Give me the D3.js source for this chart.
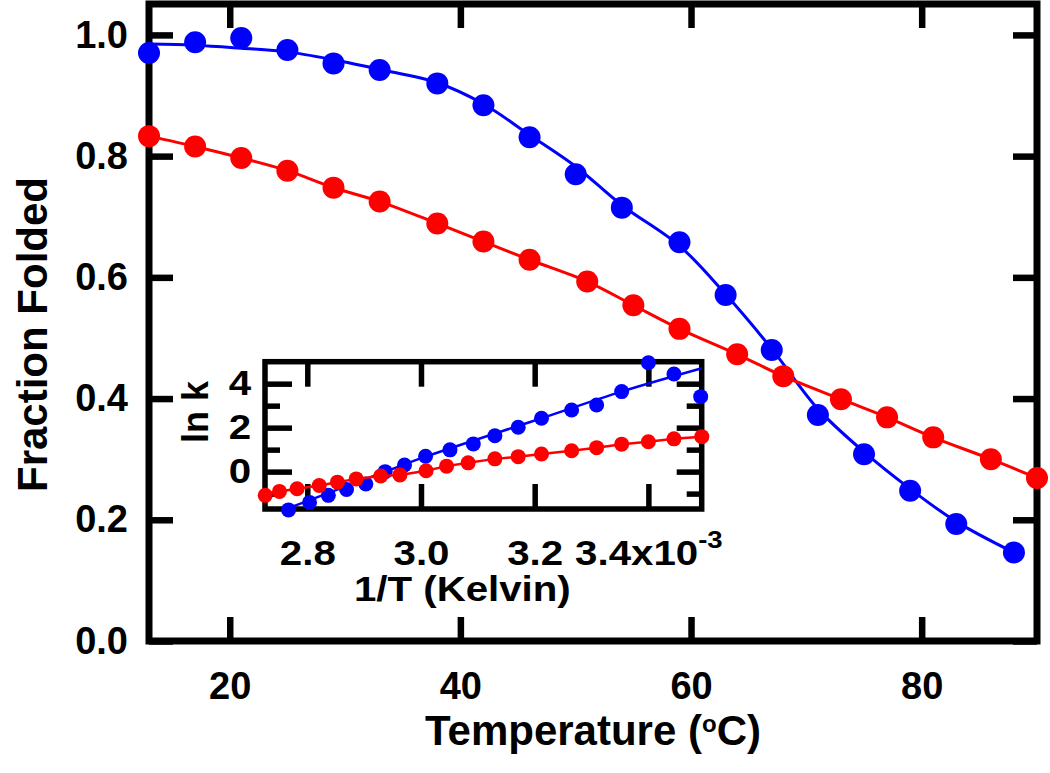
<!DOCTYPE html>
<html><head><meta charset="utf-8">
<script src="https://cdn.jsdelivr.net/npm/d3@7"></script>
<style>
body{margin:0;background:#fff}
svg{display:block}
text{font-family:"Liberation Sans",Arial,Helvetica,sans-serif;font-weight:bold;fill:#000}
</style>
</head><body>
<svg id="c" width="1050" height="773"></svg>
<script>
// ---- Main plot data: fraction folded vs temperature (°C)
const blueT = [13,17,21,25,29,33,38,42,46,50,54,59,63,67,71,75,79,83,88];
const blueF = [0.970,0.988,0.995,0.975,0.953,0.942,0.920,0.884,0.831,0.770,0.715,0.658,0.571,0.480,0.373,0.308,0.248,0.193,0.146];
const blueFitF = [0.985,0.983,0.978,0.972,0.959,0.943,0.921,0.886,0.835,0.783,0.719,0.652,0.572,0.482,0.383,0.312,0.251,0.197,0.146];
const redT = [13,17,21,25,29,33,38,42,46,51,55,59,64,68,73,77,81,86,90];
const redF = [0.833,0.816,0.797,0.776,0.748,0.725,0.689,0.659,0.629,0.593,0.554,0.515,0.473,0.437,0.399,0.369,0.336,0.300,0.269];
const mainXTicks = [20,40,60,80];
const mainYTicks = [0.0,0.2,0.4,0.6,0.8,1.0];

// ---- Inset data: ln k vs 1/T (x10^-3 K^-1)
const insetBlueX = [2.767,2.804,2.837,2.869,2.903,2.937,2.971,3.008,3.051,3.092,3.130,3.171,3.212,3.265,3.309,3.353,3.400,3.445,3.492];
const insetBlueY = [-1.74,-1.40,-1.08,-0.81,-0.56,0.00,0.30,0.70,0.99,1.26,1.63,2.02,2.43,2.80,3.03,3.64,4.95,4.44,3.41];
const insetBlueFitX = [2.767,2.937,3.008,3.212,3.353,3.494];
const insetBlueFitY = [-1.66,0.00,0.68,2.43,3.64,4.70];
const insetRedX = [2.726,2.751,2.782,2.821,2.853,2.886,2.929,2.963,3.009,3.045,3.083,3.130,3.171,3.212,3.265,3.309,3.353,3.400,3.445,3.494];
const insetRedY = [-1.08,-0.90,-0.78,-0.63,-0.48,-0.33,-0.20,-0.15,0.04,0.25,0.40,0.58,0.68,0.80,0.95,1.09,1.25,1.36,1.49,1.59];
const insetXTicks = [2.8,3.0,3.2,3.4];
const insetYMajor = [0,2,4];
const insetYMinor = [-1,1,3];

const BLUE = "#0000ff", RED = "#ff0000";
const svg = d3.select("#c");

// ================= MAIN PLOT =================
const M = {left:149, right:1037, top:4, bottom:641};
const x = d3.scaleLinear().domain([13,90]).range([M.left, M.right]);
const y = d3.scaleLinear().domain([0,1.051]).range([M.bottom, M.top]);
const TICK = 24, TW = 6.5, FW = 7;

function styleAxis(g, fs){
  g.select(".domain").remove();
  g.selectAll(".tick line").attr("stroke","#000").attr("stroke-width",TW);
  g.selectAll(".tick text").style("font-size", fs+"px").attr("fill","#000");
}
svg.append("g").attr("transform",`translate(0,${M.bottom})`)
  .call(d3.axisBottom(x).tickValues(mainXTicks).tickSize(-TICK).tickPadding(31).tickFormat(d3.format("d")))
  .call(g=>styleAxis(g,38));
svg.append("g").attr("transform",`translate(0,${M.top})`)
  .call(d3.axisTop(x).tickValues(mainXTicks).tickSize(-TICK).tickFormat(""))
  .call(g=>styleAxis(g,38));
svg.append("g").attr("transform",`translate(${M.left},0)`)
  .call(d3.axisLeft(y).tickValues(mainYTicks).tickSize(-TICK).tickPadding(21).tickFormat(d3.format(".1f")))
  .call(g=>styleAxis(g,38));
svg.append("g").attr("transform",`translate(${M.right},0)`)
  .call(d3.axisRight(y).tickValues(mainYTicks).tickSize(-TICK).tickFormat(""))
  .call(g=>styleAxis(g,38));
svg.append("rect").attr("x",M.left).attr("y",M.top)
  .attr("width",M.right-M.left).attr("height",M.bottom-M.top)
  .attr("fill","none").attr("stroke","#000").attr("stroke-width",FW);

// axis titles
svg.append("text").attr("x",(M.left+M.right)/2).attr("y",745)
  .attr("text-anchor","middle").style("font-size","42px")
  .call(t=>{t.append("tspan").text("Temperature (");
            t.append("tspan").attr("dy",-13).style("font-size","24px").text("o");
            t.append("tspan").attr("dy",13).text("C)");});
svg.append("text").attr("transform",`translate(47,${(M.top+M.bottom)/2+12}) rotate(-90)`)
  .attr("text-anchor","middle").style("font-size","42px").text("Fraction Folded");

const mainLine = d3.line().x(d=>x(d[0])).y(d=>y(d[1])).curve(d3.curveCatmullRom.alpha(0.5));
svg.append("path").datum(d3.zip(blueT, blueFitF)).attr("d",mainLine)
  .attr("fill","none").attr("stroke",BLUE).attr("stroke-width",3);
svg.append("g").selectAll("circle").data(d3.zip(blueT, blueF)).join("circle")
  .attr("cx",d=>x(d[0])).attr("cy",d=>y(d[1])).attr("r",11).attr("fill",BLUE);
svg.append("path").datum(d3.zip(redT, redF)).attr("d",mainLine)
  .attr("fill","none").attr("stroke",RED).attr("stroke-width",3);
svg.append("g").selectAll("circle").data(d3.zip(redT, redF)).join("circle")
  .attr("cx",d=>x(d[0])).attr("cy",d=>y(d[1])).attr("r",11).attr("fill",RED);

// ================= INSET =================
const I = {left:265, right:701.7, top:361.7, bottom:509};
const xi = d3.scaleLinear().domain([2.7256,3.4938]).range([I.left, I.right]);
const yi = d3.scaleLinear().domain([-1.7,5]).range([I.bottom, I.top]);
const IS = 1.15; // horizontal stretch of inset lettering
const ITW = 5.5, IFW = 5.5;

function styleInset(g){
  g.select(".domain").remove();
  g.selectAll(".tick line").attr("stroke","#000").attr("stroke-width",ITW);
  g.selectAll(".tick text").style("font-size","35px").attr("fill","#000");
}
svg.append("g").attr("transform",`translate(0,${I.bottom})`)
  .call(d3.axisBottom(xi).tickValues(insetXTicks).tickSize(-25).tickPadding(31).tickFormat(d=>d.toFixed(1)))
  .call(styleInset)
  .call(g=>{
    g.selectAll(".tick text").attr("transform",`scale(${IS},1)`);
    g.selectAll(".tick text").filter(d=>d===3.4).text(null).call(t=>{
      t.append("tspan").text("3.4x10");
      t.append("tspan").attr("dy",-17).style("font-size","24px").text("-3");
    });
  });
svg.append("g").attr("transform",`translate(0,${I.top})`)
  .call(d3.axisTop(xi).tickValues(insetXTicks).tickSize(-25).tickFormat(""))
  .call(styleInset);
svg.append("g").attr("transform",`translate(${I.left},0)`)
  .call(d3.axisLeft(yi).tickValues(insetYMajor).tickSize(-27).tickPadding(12).tickFormat(d3.format("d")))
  .call(styleInset)
  .call(g=>g.selectAll(".tick text").attr("transform",`scale(${IS},1)`));
svg.append("g").attr("transform",`translate(${I.left},0)`)
  .call(d3.axisLeft(yi).tickValues(insetYMinor).tickSize(-15).tickFormat(""))
  .call(styleInset);
svg.append("g").attr("transform",`translate(${I.right},0)`)
  .call(d3.axisRight(yi).tickValues(insetYMajor).tickSize(-25).tickFormat(""))
  .call(styleInset);
svg.append("g").attr("transform",`translate(${I.right},0)`)
  .call(d3.axisRight(yi).tickValues(insetYMinor).tickSize(-15).tickFormat(""))
  .call(styleInset);
svg.append("rect").attr("x",I.left).attr("y",I.top)
  .attr("width",I.right-I.left).attr("height",I.bottom-I.top)
  .attr("fill","none").attr("stroke","#000").attr("stroke-width",IFW);

svg.append("g").attr("transform",`translate(${(I.left+I.right)/2-21},601) scale(${IS},1)`)
  .append("text").attr("text-anchor","middle").style("font-size","35px").text("1/T (Kelvin)");
svg.append("text").attr("transform",`translate(208,412) rotate(-90)`)
  .attr("text-anchor","middle").style("font-size","36px").text("ln k");

const insetLine = d3.line().x(d=>xi(d[0])).y(d=>yi(d[1]));
svg.append("path").datum(d3.zip(insetBlueFitX, insetBlueFitY))
  .attr("d",insetLine.curve(d3.curveCatmullRom.alpha(0.5)))
  .attr("fill","none").attr("stroke",BLUE).attr("stroke-width",2.5);
svg.append("g").selectAll("circle").data(d3.zip(insetBlueX, insetBlueY)).join("circle")
  .attr("cx",d=>xi(d[0])).attr("cy",d=>yi(d[1])).attr("r",7.5).attr("fill",BLUE);
svg.append("path").datum(d3.zip(insetRedX, insetRedY))
  .attr("d",d3.line().x(d=>xi(d[0])).y(d=>yi(d[1])))
  .attr("fill","none").attr("stroke",RED).attr("stroke-width",2.5);
svg.append("g").selectAll("circle").data(d3.zip(insetRedX, insetRedY)).join("circle")
  .attr("cx",d=>xi(d[0])).attr("cy",d=>yi(d[1])).attr("r",7.5).attr("fill",RED);
</script>
</body></html>
